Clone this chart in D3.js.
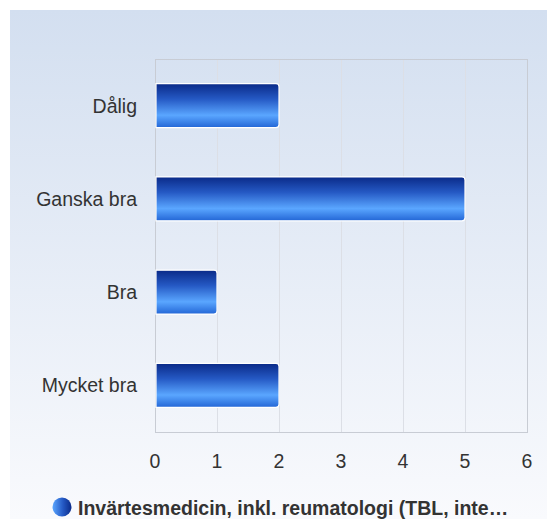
<!DOCTYPE html>
<html><head><meta charset="utf-8">
<script src="https://cdn.jsdelivr.net/npm/d3@7"></script>
<style>body{margin:0;background:#fff;}svg{display:block;font-family:"Liberation Sans",Arial,sans-serif;}</style>
</head><body><svg id="c" width="547" height="519"></svg>
<script>
const categories = ["Dålig", "Ganska bra", "Bra", "Mycket bra"];
const values = [2, 5, 1, 2];
const xTicks = [0, 1, 2, 3, 4, 5, 6];
const seriesName = "Invärtesmedicin, inkl. reumatologi (TBL, inte…";

const svg = d3.select("#c");
const defs = svg.append("defs");
const bg = defs.append("linearGradient").attr("id","bg").attr("x1",0).attr("y1",0).attr("x2",0).attr("y2",1);
bg.append("stop").attr("offset","0%").attr("stop-color","#d3dff0");
bg.append("stop").attr("offset","100%").attr("stop-color","#f9fafd");
const bar = defs.append("linearGradient").attr("id","bar").attr("x1",0).attr("y1",0).attr("x2",0).attr("y2",1);
[["0%","#0a2a88"],["35%","#2559c4"],["72%","#5aa6ff"],["100%","#2366d6"]].forEach(s=>bar.append("stop").attr("offset",s[0]).attr("stop-color",s[1]));
const lg = defs.append("linearGradient").attr("id","lg").attr("x1",0).attr("y1",0).attr("x2",1).attr("y2",0);
[["0%","#5aa6ff"],["55%","#2559c4"],["100%","#0a2a88"]].forEach(s=>lg.append("stop").attr("offset",s[0]).attr("stop-color",s[1]));

svg.append("rect").attr("x",10).attr("y",10).attr("width",537).attr("height",509).attr("fill","url(#bg)");

const m = {left:155, right:527, top:59, bottom:432};
const x = d3.scaleLinear().domain([0,6]).range([m.left, m.right]);
const y = d3.scaleBand().domain(categories).range([m.top, m.bottom]).paddingInner(0.53).paddingOuter(0.265);

const g = svg.append("g");
g.selectAll(".grid").data(xTicks).enter().append("line")
  .attr("x1",d=>x(d)+0.5).attr("x2",d=>x(d)+0.5).attr("y1",m.top).attr("y2",m.bottom)
  .attr("stroke","#dcdfe6").attr("stroke-width",1);
g.append("rect").attr("x",m.left+0.5).attr("y",m.top+0.5).attr("width",m.right-m.left).attr("height",m.bottom-m.top)
  .attr("fill","none").attr("stroke","#c8ccd4");

const r = 3;
g.selectAll(".bar").data(values).enter().append("path")
  .attr("d",(d,i)=>{
    const x0 = x(0)+1, x1 = x(d), y0 = y(categories[i]), h = y.bandwidth();
    return `M${x0},${y0}H${x1-r}Q${x1},${y0} ${x1},${y0+r}V${y0+h-r}Q${x1},${y0+h} ${x1-r},${y0+h}H${x0}Z`;
  })
  .attr("fill","url(#bar)").attr("stroke","#ffffff").attr("stroke-width",1.2);

g.selectAll(".cat").data(categories).enter().append("text")
  .attr("x",137).attr("y",d=>y(d)+y.bandwidth()/2+7)
  .attr("text-anchor","end").attr("font-size",19.5).attr("fill","#333").text(d=>d);

g.selectAll(".tick").data(xTicks).enter().append("text")
  .attr("x",d=>x(d)).attr("y",468).attr("text-anchor","middle")
  .attr("font-size",19.5).attr("fill","#333").text(d=>d);

svg.append("circle").attr("cx",62).attr("cy",507).attr("r",9.5).attr("fill","url(#lg)");
svg.append("text").attr("x",78).attr("y",515).attr("font-size",19.5).attr("font-weight","bold").attr("fill","#333").text(seriesName);
</script></body></html>
